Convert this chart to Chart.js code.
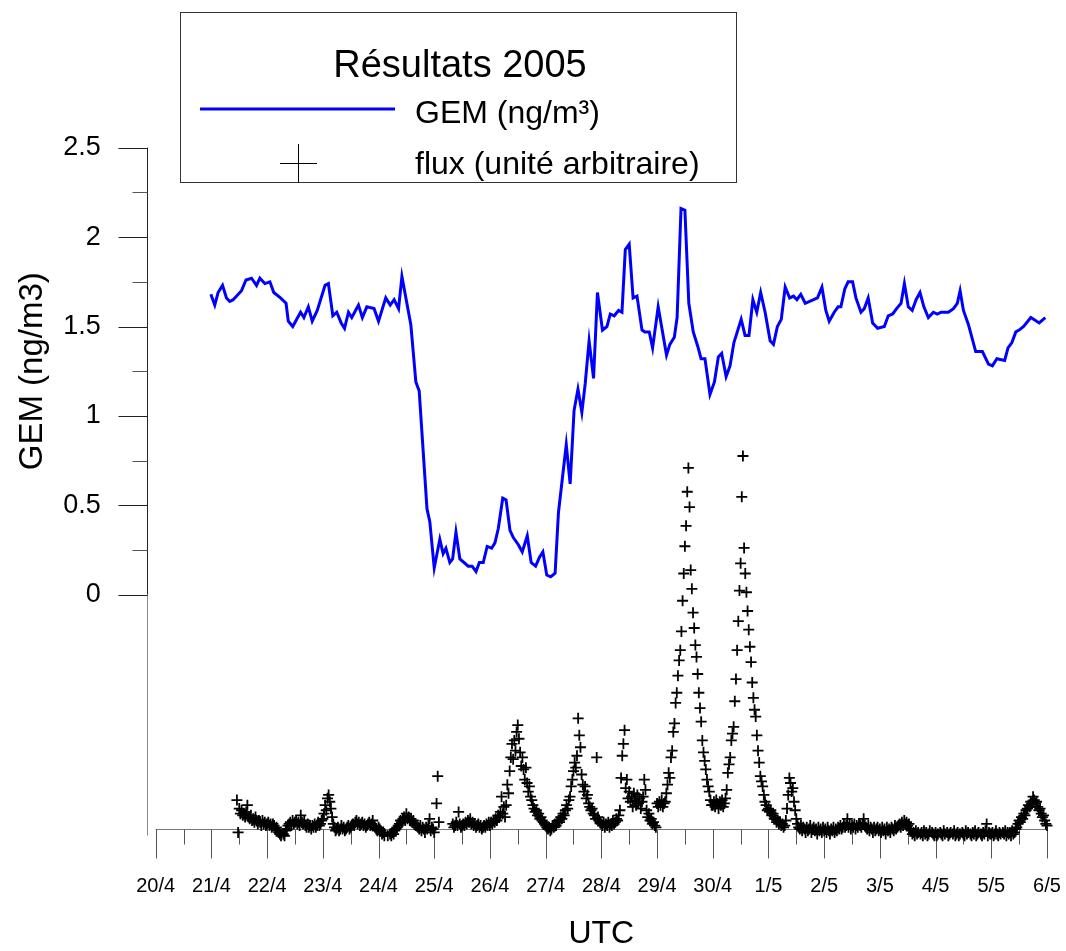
<!DOCTYPE html>
<html lang="fr">
<head>
<meta charset="utf-8">
<title>Résultats 2005</title>
<script src="https://cdn.jsdelivr.net/npm/chart.js@4.4.1/dist/chart.umd.min.js"></script>
<style>
  html, body { margin: 0; padding: 0; background: #fff; }
  #wrap { position: relative; width: 1066px; height: 951px; }
</style>
</head>
<body>
<div id="wrap"><canvas id="chart" width="1066" height="951"></canvas></div>
<script>
const FONT = '"Liberation Sans", Arial, Helvetica, sans-serif';

// axe des temps : jours écoulés depuis le 20/4 00h UTC
const dayLabels = ['20/4', '21/4', '22/4', '23/4', '24/4', '25/4', '26/4', '27/4', '28/4',
  '29/4', '30/4', '1/5', '2/5', '3/5', '4/5', '5/5', '6/5'];
const gemTicks = [0, 0.5, 1, 1.5, 2, 2.5];
const gemMinorTicks = [0.25, 0.75, 1.25, 1.75, 2.25];

const legendTitle = 'Résultats 2005';
const gemLabel = 'GEM (ng/m³)';
const fluxLabel = 'flux (unité arbitraire)';
const gemAxisTitle = 'GEM (ng/m3)';

// GEM (ng/m3)
const gemTime = [
  0.99, 1.06, 1.12, 1.20, 1.27, 1.33, 1.39, 1.54, 1.62, 1.72, 1.81, 1.87, 1.96,
  2.05, 2.12, 2.24, 2.34, 2.38, 2.46, 2.60, 2.66, 2.74, 2.81, 2.90,
  3.04, 3.10, 3.18, 3.25, 3.33, 3.39, 3.46, 3.52, 3.64, 3.71, 3.79, 3.92,
  4.00, 4.13, 4.21, 4.28, 4.36, 4.42, 4.58, 4.67, 4.73, 4.87, 4.92,
  5.00, 5.10, 5.16, 5.21, 5.28, 5.33, 5.39, 5.46, 5.61, 5.68, 5.75, 5.81, 5.88, 5.95,
  6.03, 6.09, 6.15, 6.23, 6.29, 6.36, 6.42, 6.51, 6.58, 6.67, 6.74, 6.82, 6.89, 6.95,
  7.02, 7.09, 7.17, 7.23, 7.37, 7.44, 7.51, 7.58, 7.65, 7.71, 7.78, 7.86, 7.93,
  8.02, 8.10, 8.16, 8.23, 8.31, 8.37, 8.43, 8.50, 8.57, 8.64, 8.73, 8.78, 8.86, 8.92,
  9.02, 9.17, 9.23, 9.31, 9.36, 9.43, 9.50, 9.57, 9.65, 9.73, 9.79, 9.86, 9.95,
  10.03, 10.10, 10.16, 10.24, 10.31, 10.38, 10.51, 10.58, 10.65, 10.72, 10.79, 10.86, 10.94,
  11.03, 11.09, 11.16, 11.23, 11.30, 11.38, 11.45, 11.51, 11.58, 11.66, 11.81, 11.88, 11.96,
  12.03, 12.09, 12.18, 12.25, 12.30, 12.37, 12.43, 12.51, 12.57, 12.66, 12.72, 12.79, 12.87, 12.96,
  13.08, 13.15, 13.23, 13.30, 13.38, 13.44, 13.51, 13.58, 13.65, 13.72, 13.79, 13.87, 13.96,
  14.03, 14.10, 14.23, 14.32, 14.39, 14.44, 14.50, 14.59, 14.72, 14.84, 14.95,
  15.02, 15.10, 15.24, 15.30, 15.37, 15.44, 15.50, 15.58, 15.71, 15.86, 15.97,
];
const gemValue = [
  1.68, 1.62, 1.69, 1.73, 1.66, 1.64, 1.65, 1.70, 1.76, 1.77, 1.73, 1.77, 1.74,
  1.75, 1.69, 1.66, 1.63, 1.53, 1.50, 1.58, 1.55, 1.61, 1.53, 1.59,
  1.73, 1.74, 1.56, 1.58, 1.52, 1.49, 1.58, 1.55, 1.62, 1.55, 1.61, 1.60,
  1.53, 1.66, 1.62, 1.65, 1.60, 1.78, 1.51, 1.19, 1.14, 0.48, 0.41,
  0.15, 0.31, 0.23, 0.26, 0.18, 0.20, 0.35, 0.20, 0.16, 0.16, 0.13, 0.18, 0.18, 0.27,
  0.26, 0.29, 0.37, 0.54, 0.53, 0.36, 0.32, 0.28, 0.24, 0.33, 0.18, 0.16, 0.21, 0.24,
  0.11, 0.10, 0.12, 0.46, 0.84, 0.62, 1.03, 1.15, 1.02, 1.18, 1.42, 1.21, 1.69,
  1.48, 1.50, 1.57, 1.56, 1.59, 1.58, 1.93, 1.96, 1.66, 1.67, 1.48, 1.47, 1.47, 1.38,
  1.61, 1.34, 1.40, 1.44, 1.55, 2.16, 2.15, 1.63, 1.47, 1.39, 1.32, 1.32, 1.12,
  1.19, 1.33, 1.35, 1.22, 1.28, 1.41, 1.54, 1.45, 1.45, 1.65, 1.58, 1.69, 1.58,
  1.42, 1.40, 1.50, 1.54, 1.72, 1.66, 1.67, 1.65, 1.68, 1.63, 1.65, 1.66, 1.72,
  1.59, 1.53, 1.58, 1.61, 1.61, 1.71, 1.75, 1.75, 1.66, 1.58, 1.60, 1.66, 1.52, 1.49,
  1.50, 1.56, 1.57, 1.60, 1.63, 1.74, 1.61, 1.59, 1.65, 1.69, 1.61, 1.55, 1.58,
  1.57, 1.58, 1.58, 1.60, 1.63, 1.70, 1.59, 1.51, 1.36, 1.36, 1.29,
  1.28, 1.32, 1.31, 1.38, 1.41, 1.47, 1.48, 1.50, 1.55, 1.52, 1.55,
];

// flux, unité arbitraire, un point toutes les 30 min à partir du 21/4 11h
const fluxStart = 1.4583;
const fluxStep = 1 / 48;
const fluxValue = [
  // 21/4
  17, -2, 12, 9, 11, 8, 9, 7, 10, 14, 7, 6, 8, 5, 6, 4, 7, 5, 3, 5, 4, 2, 5, 3, 4, 2,
  // 22/4
  3, 4, 2, 3, 1, 3, 2, 0, 1, -1, -2, -3, -4, -5, -3, -4, -1, 0, 2, 3, 4, 2, 5, 3,
  4, 5, 3, 4, 2, 8, 4, 3, 5, 2, 1, 3, 1, 2, 0, 2, 1, 3, 1, 2, 4, 2, 3, 5,
  // 23/4
  6, 9, 14, 11, 18, 20, 16, 12, 7, 3, 1, -1, 0, 1, -1, 0, 2, 0, 1, -1, 0, 1, 2, 0,
  1, 2, 3, 2, 4, 5, 3, 4, 2, 3, 4, 2, 3, 1, 2, 3, 4, 2, 3, 5, 2, 1, 0, -1,
  // 24/4
  1, 0, -1, -3, -2, -4, -5, -6, -4, -5, -3, -4, -2, -3, -1, 0, 1, 2, 3, 5, 4, 6, 7, 5,
  9, 6, 7, 5, 6, 4, 5, 3, 2, -6, 1, 0, 2, -1, 1, 0, -2, 1, 0, 2, 6, -1, 1, 0,
  // 25/4
  -2, -6, 15, 31, 4, null, null, null, null, null, null, null, null, null, null, null,
  3, 1, 2, 4, 2, 10, 3, 1, 2, 3, 2, 4, 3, 5, 4, 6, 3, 4, 2, 3, 1, 2, 3, 1, 2, 0, 1, 2, 1, 3, 2, 4,
  // 26/4
  2, 4, 3, 5, 4, 6, 5, 8, 7, 10, 19, 9, 13, 7, 14, 26, 21, 34, 42, 50, 41, 52, 46, 57,
  61, 53, 45, 37, 42, 35, 29, 36, 27, 22, 25, 19, 17, 14, 12, 10, 11, 8, 9, 6, 7, 5, 4, 3,
  // 27/4
  2, 1, 0, 1, -1, 0, 2, 1, 3, 2, 4, 5, 4, 7, 6, 9, 8, 11, 14, 12, 17, 19, 25, 29,
  34, 39, 36, 43, 65, 55, 48, 32, 26, 22, 25, 18, 20, 15, 13, 11, 12, 9, 8, 6, 42, 7, 5, 4,
  // 28/4
  3, 2, 4, 1, 3, 2, 4, 1, 3, 2, 5, 3, 4, 6, 5, 8, 11, 30, 43, 50, 58, 24, 29, 18,
  22, 16, 19, 13, 21, 17, 14, 20, 15, 18, 12, 16, 19, 29, 23, 11, 7, 9, 5, 6, 3, 4, 2, 1,
  // 29/4
  15, 13, 16, 14, 17, 13, 15, 16, 21, 26, 33, 30, 42, 46, 57, 62, 74, 80, 90, 99, 105, 116, 134, 150,
  166, 178, 198, 212, 189, 152, 141, 127, 118, 108, 101, 91, 80, 71, 63, 52, 45, 40, 35, 29, 25, 22, 17, 14,
  // 30/4
  14, 16, 13, 17, 15, 12, 16, 14, 17, 13, 15, 18, 23, 33, 38, 42, 52, 56, 60, 75, 88, 105, 122, 140,
  156, 195, 219, 165, 150, 139, 128, 117, 107, 98, 86, 77, 70, 66, 55, 46, 39, 31, 28, 25, 20, 16, 14, 11,
  // 1/5
  12, 10, 11, 8, 9, 6, 7, 4, 5, 3, 4, 2, 3, 1, 2, 5, 12, 20, 30, 27, 22, 24, 16, 11,
  6, 3, 1, 0, 2, -1, 1, 0, -2, 1, -1, 0, 2, -2, 0, 1, -1, 0, -3, 1, -1, 0, -2, 1,
  // 2/5
  -1, 0, -2, 1, -1, -3, 0, -1, 1, -2, 0, -1, 1, 0, 2, 0, 1, 3, 1, 2, 6, 1, 3, 0,
  2, 1, 3, 0, 2, 1, 3, 2, 1, 3, 6, 2, 1, 0, 2, -1, 1, 0, -2, 1, -1, 0, 1, -1,
  // 3/5
  0, -2, 1, -1, 0, -3, 1, -1, 0, -2, 1, 0, -1, 2, 0, 1, 2, 3, 1, 4, 2, 5, 3, 4,
  2, 3, 0, -1, -3, -2, -4, -1, -3, -2, -5, -3, -2, -4, -1, -3, -2, -4, -3, -1, -5, -2, -3, -4,
  // 4/5
  -2, -4, -3, -5, -2, -3, -4, -1, -3, -5, -2, -4, -3, -2, -5, -3, -1, -4, -3, -2, -4, -3, -5, -2,
  -3, -4, -1, -3, -2, -5, -3, -4, -2, -3, -1, -4, -3, -2, -5, -3, -4, -2, -3, -1, 3, -4, -2, -3,
  // 5/5
  -3, -2, -4, -3, -1, -3, -4, -2, -3, -5, -2, -3, -1, -4, -2, -3, -2, -4, -1, -3, -2, 0, 1, 3,
  5, 4, 7, 6, 9, 8, 11, 12, 14, 13, 16, 15, 19, 17, 15, 16, 13, 11, 12, 9, 7, 8, 5, 3,
  // 6/5
  2,
];

const gemData = gemTime.map((t, i) => ({ x: t, y: gemValue[i] }));
const fluxData = fluxValue.map((v, i) => ({ x: fluxStart + i * fluxStep, y: v }));

const crisp = v => Math.round(v) + 0.5;

// axes dessinés à la main : trait long / court comme sur l'original
const axesPlugin = {
  id: 'axesLines',
  beforeDatasetsDraw(chart) {
    const { ctx, scales: { x, y } } = chart;
    const axisX = crisp(x.left - 9);
    const axisY = crisp(x.top);
    ctx.save();
    ctx.lineWidth = 1;

    // axe vertical
    ctx.strokeStyle = '#222';
    ctx.beginPath();
    ctx.moveTo(axisX, y.getPixelForValue(2.5));
    ctx.lineTo(axisX, y.getPixelForValue(0));
    ctx.stroke();
    ctx.strokeStyle = '#888';
    ctx.beginPath();
    ctx.moveTo(axisX, y.getPixelForValue(0));
    ctx.lineTo(axisX, axisY + 6);
    ctx.stroke();

    ctx.strokeStyle = '#222';
    gemTicks.forEach(v => {
      const py = crisp(y.getPixelForValue(v));
      ctx.beginPath();
      ctx.moveTo(axisX - 29, py);
      ctx.lineTo(axisX, py);
      ctx.stroke();
    });
    ctx.strokeStyle = '#555';
    gemMinorTicks.forEach(v => {
      const py = crisp(y.getPixelForValue(v));
      ctx.beginPath();
      ctx.moveTo(axisX - 15, py);
      ctx.lineTo(axisX, py);
      ctx.stroke();
    });

    // axe horizontal
    ctx.strokeStyle = '#777';
    ctx.beginPath();
    ctx.moveTo(x.getPixelForValue(0), axisY);
    ctx.lineTo(x.getPixelForValue(dayLabels.length - 1), axisY);
    ctx.stroke();
    ctx.strokeStyle = '#555';
    for (let d = 0; d < dayLabels.length; d++) {
      const px = crisp(x.getPixelForValue(d));
      ctx.beginPath();
      ctx.moveTo(px, axisY);
      ctx.lineTo(px, axisY + 29);
      ctx.stroke();
      if (d < dayLabels.length - 1) {
        const pm = crisp(x.getPixelForValue(d + 0.5));
        ctx.beginPath();
        ctx.moveTo(pm, axisY);
        ctx.lineTo(pm, axisY + 15);
        ctx.stroke();
      }
    }

    // titre de l'axe GEM, centré sur la partie 0 - 2.5
    const midY = (y.getPixelForValue(0) + y.getPixelForValue(2.5)) / 2;
    ctx.translate(33, midY);
    ctx.rotate(-Math.PI / 2);
    ctx.fillStyle = '#000';
    ctx.font = `33px ${FONT}`;
    ctx.textAlign = 'center';
    ctx.textBaseline = 'middle';
    ctx.fillText(gemAxisTitle, 0, 0);
    ctx.restore();
  },
};

// légende encadrée en haut
const legendPlugin = {
  id: 'boxLegend',
  afterDraw(chart) {
    const { ctx } = chart;
    const gem = chart.data.datasets[0];
    const flux = chart.data.datasets[1];
    ctx.save();
    ctx.fillStyle = '#fff';
    ctx.fillRect(180, 12, 557, 171);
    ctx.strokeStyle = '#333';
    ctx.lineWidth = 1;
    ctx.strokeRect(180.5, 12.5, 556, 170);

    ctx.fillStyle = '#000';
    ctx.textBaseline = 'alphabetic';
    ctx.font = `38px ${FONT}`;
    ctx.textAlign = 'center';
    ctx.fillText(legendTitle, 460, 77);

    ctx.strokeStyle = gem.borderColor;
    ctx.lineWidth = gem.borderWidth;
    ctx.beginPath();
    ctx.moveTo(200, 109);
    ctx.lineTo(395, 109);
    ctx.stroke();

    ctx.strokeStyle = flux.borderColor;
    ctx.lineWidth = 1;
    ctx.beginPath();
    ctx.moveTo(280, 163.5);
    ctx.lineTo(317, 163.5);
    ctx.moveTo(298.5, 144);
    ctx.lineTo(298.5, 183);
    ctx.stroke();

    ctx.font = `32px ${FONT}`;
    ctx.textAlign = 'left';
    ctx.fillText(gem.label, 415, 123);
    ctx.fillText(flux.label, 415, 174);
    ctx.restore();
  },
};

Chart.defaults.font.family = FONT;
Chart.defaults.color = '#000';

new Chart(document.getElementById('chart'), {
  type: 'scatter',
  data: {
    datasets: [
      {
        label: gemLabel,
        data: gemData,
        showLine: true,
        borderColor: '#0000ff',
        borderWidth: 3,
        pointRadius: 0,
        tension: 0,
        yAxisID: 'y',
      },
      {
        label: fluxLabel,
        data: fluxData,
        showLine: false,
        pointStyle: 'cross',
        pointRadius: 5.5,
        borderColor: '#000',
        borderWidth: 1.8,
        clip: false,
        yAxisID: 'yFlux',
      },
    ],
  },
  options: {
    responsive: false,
    devicePixelRatio: 1,
    animation: false,
    layout: { padding: { top: 147.7, right: 19, bottom: 0, left: 0 } },
    scales: {
      x: {
        type: 'linear',
        position: 'bottom',
        min: 0,
        max: dayLabels.length - 1,
        afterBuildTicks: scale => { scale.ticks = dayLabels.map((_, i) => ({ value: i })); },
        afterFit: scale => { scale.height = 122; },
        ticks: {
          autoSkip: false,
          maxRotation: 0,
          minRotation: 0,
          padding: 0,
          font: { size: 20 },
          callback: v => dayLabels[v],
        },
        // marques invisibles : servent seulement à décaler les étiquettes
        grid: { display: false, drawTicks: true, tickLength: 45 },
        border: { display: false },
        title: {
          display: true,
          text: 'UTC',
          font: { size: 32, lineHeight: 1 },
          padding: { top: 0, bottom: 1 },
        },
      },
      y: {
        type: 'linear',
        position: 'left',
        min: -1.31,
        max: 2.5,
        afterBuildTicks: scale => { scale.ticks = gemTicks.map(v => ({ value: v })); },
        afterFit: scale => { scale.width = 155.7; },
        ticks: {
          padding: 0,
          font: { size: 27 },
          callback: v => String(v),
        },
        grid: { display: false, drawTicks: true, tickLength: 55 },
        border: { display: false },
      },
      yFlux: {
        type: 'linear',
        display: false,
        min: 0,
        max: 400,
      },
    },
    plugins: {
      legend: { display: false },
      tooltip: { enabled: false },
    },
  },
  plugins: [axesPlugin, legendPlugin],
});
</script>
</body>
</html>
